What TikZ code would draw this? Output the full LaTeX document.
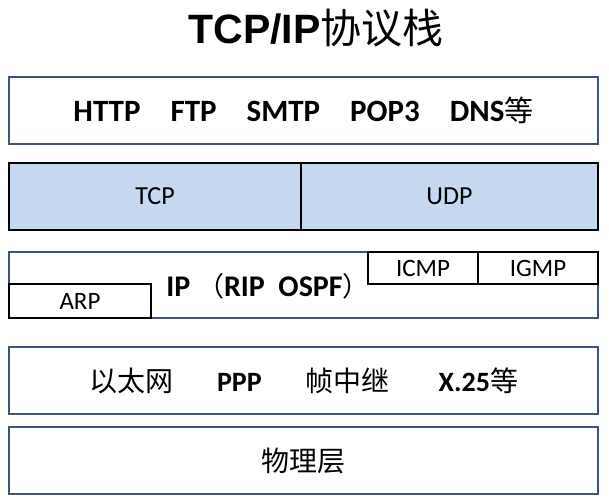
\documentclass[tikz,border=0pt]{standalone}
\usepackage{fontspec}
\setmainfont{Carlito}
\newfontfamily\cjk{Noto Sans CJK SC}
\newfontfamily\titlefont{Liberation Sans}
\usetikzlibrary{positioning}
\definecolor{layerline}{RGB}{62,84,116}
\definecolor{tcpfill}{RGB}{198,217,240}

\begin{document}
\begin{tikzpicture}[x=1pt,y=-1pt]
\tikzstyle{layer}=[draw=layerline,line width=1.8pt,inner sep=0pt,minimum width=589pt,minimum height=67pt,font=\fontsize{28}{30}\selectfont]
\tikzstyle{cell}=[draw=black,line width=1.8pt,inner sep=0pt,font=\fontsize{25}{28}\selectfont]

\useasboundingbox (0,0) rectangle (609,500);

\node[font=\titlefont\bfseries\fontsize{41}{46}\selectfont] (title) at (316,28) {TCP/IP{\cjk\mdseries 协议栈}};

% application layer
\node[layer,font=\fontsize{31}{33}\selectfont] (app) at (303.5,110.5) {\bfseries HTTP\hspace{30pt}FTP\hspace{30pt}SMTP\hspace{30pt}POP3\hspace{30pt}DNS{\cjk\mdseries\fontsize{29}{31}\selectfont 等}};

% transport layer
\node[cell,fill=tcpfill,minimum width=292pt,minimum height=67pt,font=\fontsize{26}{28}\selectfont] (tcp) at (155,196.5) {TCP};
\node[cell,fill=tcpfill,minimum width=297pt,minimum height=67pt,font=\fontsize{26}{28}\selectfont] (udp) at (449.5,196.5) {UDP};

% network layer
\node[layer,minimum height=66pt] (net) at (303.5,285) {};
\node[cell,minimum width=142pt,minimum height=34pt] (arp) at (80,301) {ARP};
\node[cell,minimum width=110pt,minimum height=32pt] (icmp) at (423,268) {ICMP};
\node[cell,minimum width=120pt,minimum height=32pt] (igmp) at (538,268) {IGMP};
\node[font=\fontsize{30}{32}\selectfont\bfseries,inner sep=0pt] (ip) at (268,286) {IP\ {\cjk\mdseries\fontsize{27}{30}\selectfont （}RIP\ \ OSPF{\cjk\mdseries\fontsize{27}{30}\selectfont ）}};

% link layer
\node[layer] (link) at (303.5,380.5) {{\cjk 以太网}\hspace{44pt}\textbf{PPP}\hspace{44pt}{\cjk 帧中继}\hspace{49pt}\textbf{X.25}{\cjk 等}};

% physical layer
\node[layer] (phy) at (303.5,460.5) {\cjk 物理层};
\end{tikzpicture}
\end{document}
